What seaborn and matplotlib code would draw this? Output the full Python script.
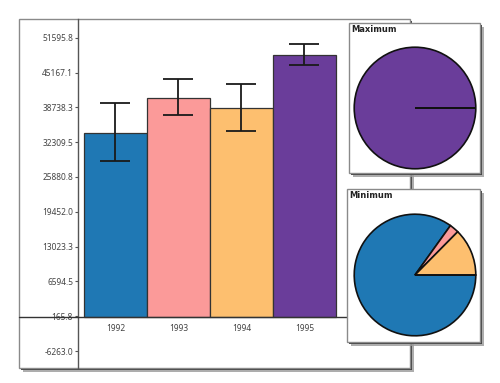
import numpy as np
import pandas as pd
import matplotlib
matplotlib.use("Agg")
import matplotlib.pyplot as plt
from matplotlib.patches import Rectangle
import seaborn as sns

years = ["1992", "1993", "1994", "1995"]
values = [34030, 40494, 38646, 48437]
err_low = [28744, 37242, 34341, 46590]
err_high = [39458, 44003, 43080, 50357]
colors = ["#1F78B4", "#FB9A99", "#FDBF6F", "#6A3D9A"]
ytick_vals = [-6263.0, 165.8, 6594.5, 13023.3, 19452.0, 25880.8,
              32309.5, 38738.3, 45167.1, 51595.8]
pie_max = [0, 0, 0, 100]
pie_min = [84.9, 2.5, 12.6, 0]

W, H = 500, 383

sns.set_theme(style="white")
plt.rcParams["font.family"] = ["Noto Sans", "DejaVu Sans"]


def box(x0, y0, x1, y1):
    # pixel box (top-left origin) -> figure fraction rect
    return [x0 / W, 1 - y1 / H, (x1 - x0) / W, (y1 - y0) / H]


def framed(fig, x0, y0, x1, y1, z):
    sh = Rectangle((x0 / W + 4 / W, 1 - y1 / H - 4 / H), (x1 - x0) / W, (y1 - y0) / H,
                   transform=fig.transFigure, facecolor="#999999", edgecolor="none",
                   alpha=0.8, zorder=z)
    sh2 = Rectangle((x0 / W + 2 / W, 1 - y1 / H - 2 / H), (x1 - x0) / W, (y1 - y0) / H,
                    transform=fig.transFigure, facecolor="#444444", edgecolor="none",
                    zorder=z + 0.1)
    fr = Rectangle((x0 / W, 1 - y1 / H), (x1 - x0) / W, (y1 - y0) / H,
                   transform=fig.transFigure, facecolor="white", edgecolor="#8a8a8a",
                   linewidth=1.0, zorder=z + 0.2)
    fig.patches.extend([sh, sh2, fr])


fig = plt.figure(figsize=(5, 3.83), dpi=100)
fig.patch.set_facecolor("white")

# main chart frame
framed(fig, 19, 19, 410, 368, -3)

ax = fig.add_axes(box(78, 19, 410, 368))
ax.set_facecolor("none")
df = pd.DataFrame({"year": years, "value": values})
sns.barplot(data=df, x="year", y="value", hue="year", palette=colors, width=1.0,
            saturation=1, edgecolor="#333333", linewidth=0.9, legend=False, ax=ax)
yerr = [np.array(values) - np.array(err_low), np.array(err_high) - np.array(values)]
ax.errorbar(np.arange(len(years)), values, yerr=yerr, fmt="none", ecolor="#1a1a1a",
            elinewidth=1.3, capsize=10.8, capthick=1.3, zorder=5)

ax.set_xlim(-0.595, 4.675)
ax.set_ylim(-9402, 55049)
ax.set_yticks(ytick_vals)
ax.set_yticklabels([f"{v:.1f}" for v in ytick_vals])
ax.tick_params(axis="y", length=2.5, width=0.8, color="#555555", pad=1,
               labelsize=6, labelcolor="#444444", left=True)
ax.tick_params(axis="x", length=0, pad=5, labelsize=6, labelcolor="#444444")
ax.set_xlabel("")
ax.set_ylabel("")
for s in ["top", "right"]:
    ax.spines[s].set_visible(False)
ax.spines["left"].set_color("#555555")
ax.spines["left"].set_linewidth(1.0)
ax.spines["bottom"].set_position(("data", 0))
ax.spines["bottom"].set_color("#333333")
ax.spines["bottom"].set_linewidth(1.0)
ax.axhline(0, xmin=-(78 - 19) / (410 - 78), xmax=0, color="#333333",
           linewidth=1.0, clip_on=False)

# pie panels
for (x0, y0, x1, y1, cy, title, data) in [
        (349, 23, 480, 173, 108, "Maximum", pie_max),
        (347, 189, 480, 342, 275, "Minimum", pie_min)]:
    framed(fig, x0, y0, x1, y1, 2)
    pax = fig.add_axes(box(415 - 62, cy - 62, 415 + 62, cy + 62))
    pax.set_zorder(3)
    wedges, _ = pax.pie(data, colors=colors, startangle=0, counterclock=False,
                        wedgeprops=dict(edgecolor="#111111", linewidth=1.2))
    for w, v in zip(wedges, data):
        if v == 0:
            w.set_zorder(4)
    pax.set_xlim(-1.02, 1.02)
    pax.set_ylim(-1.02, 1.02)
    pax.set_aspect("equal")
    pax.axis("off")
    fig.text((x0 + 2) / W, 1 - (y0 + 6) / H, title, fontsize=6, fontweight="bold",
             family=["DejaVu Sans"], color="#222222", va="center", ha="left", zorder=5)

fig.savefig("out.png", dpi=100)
